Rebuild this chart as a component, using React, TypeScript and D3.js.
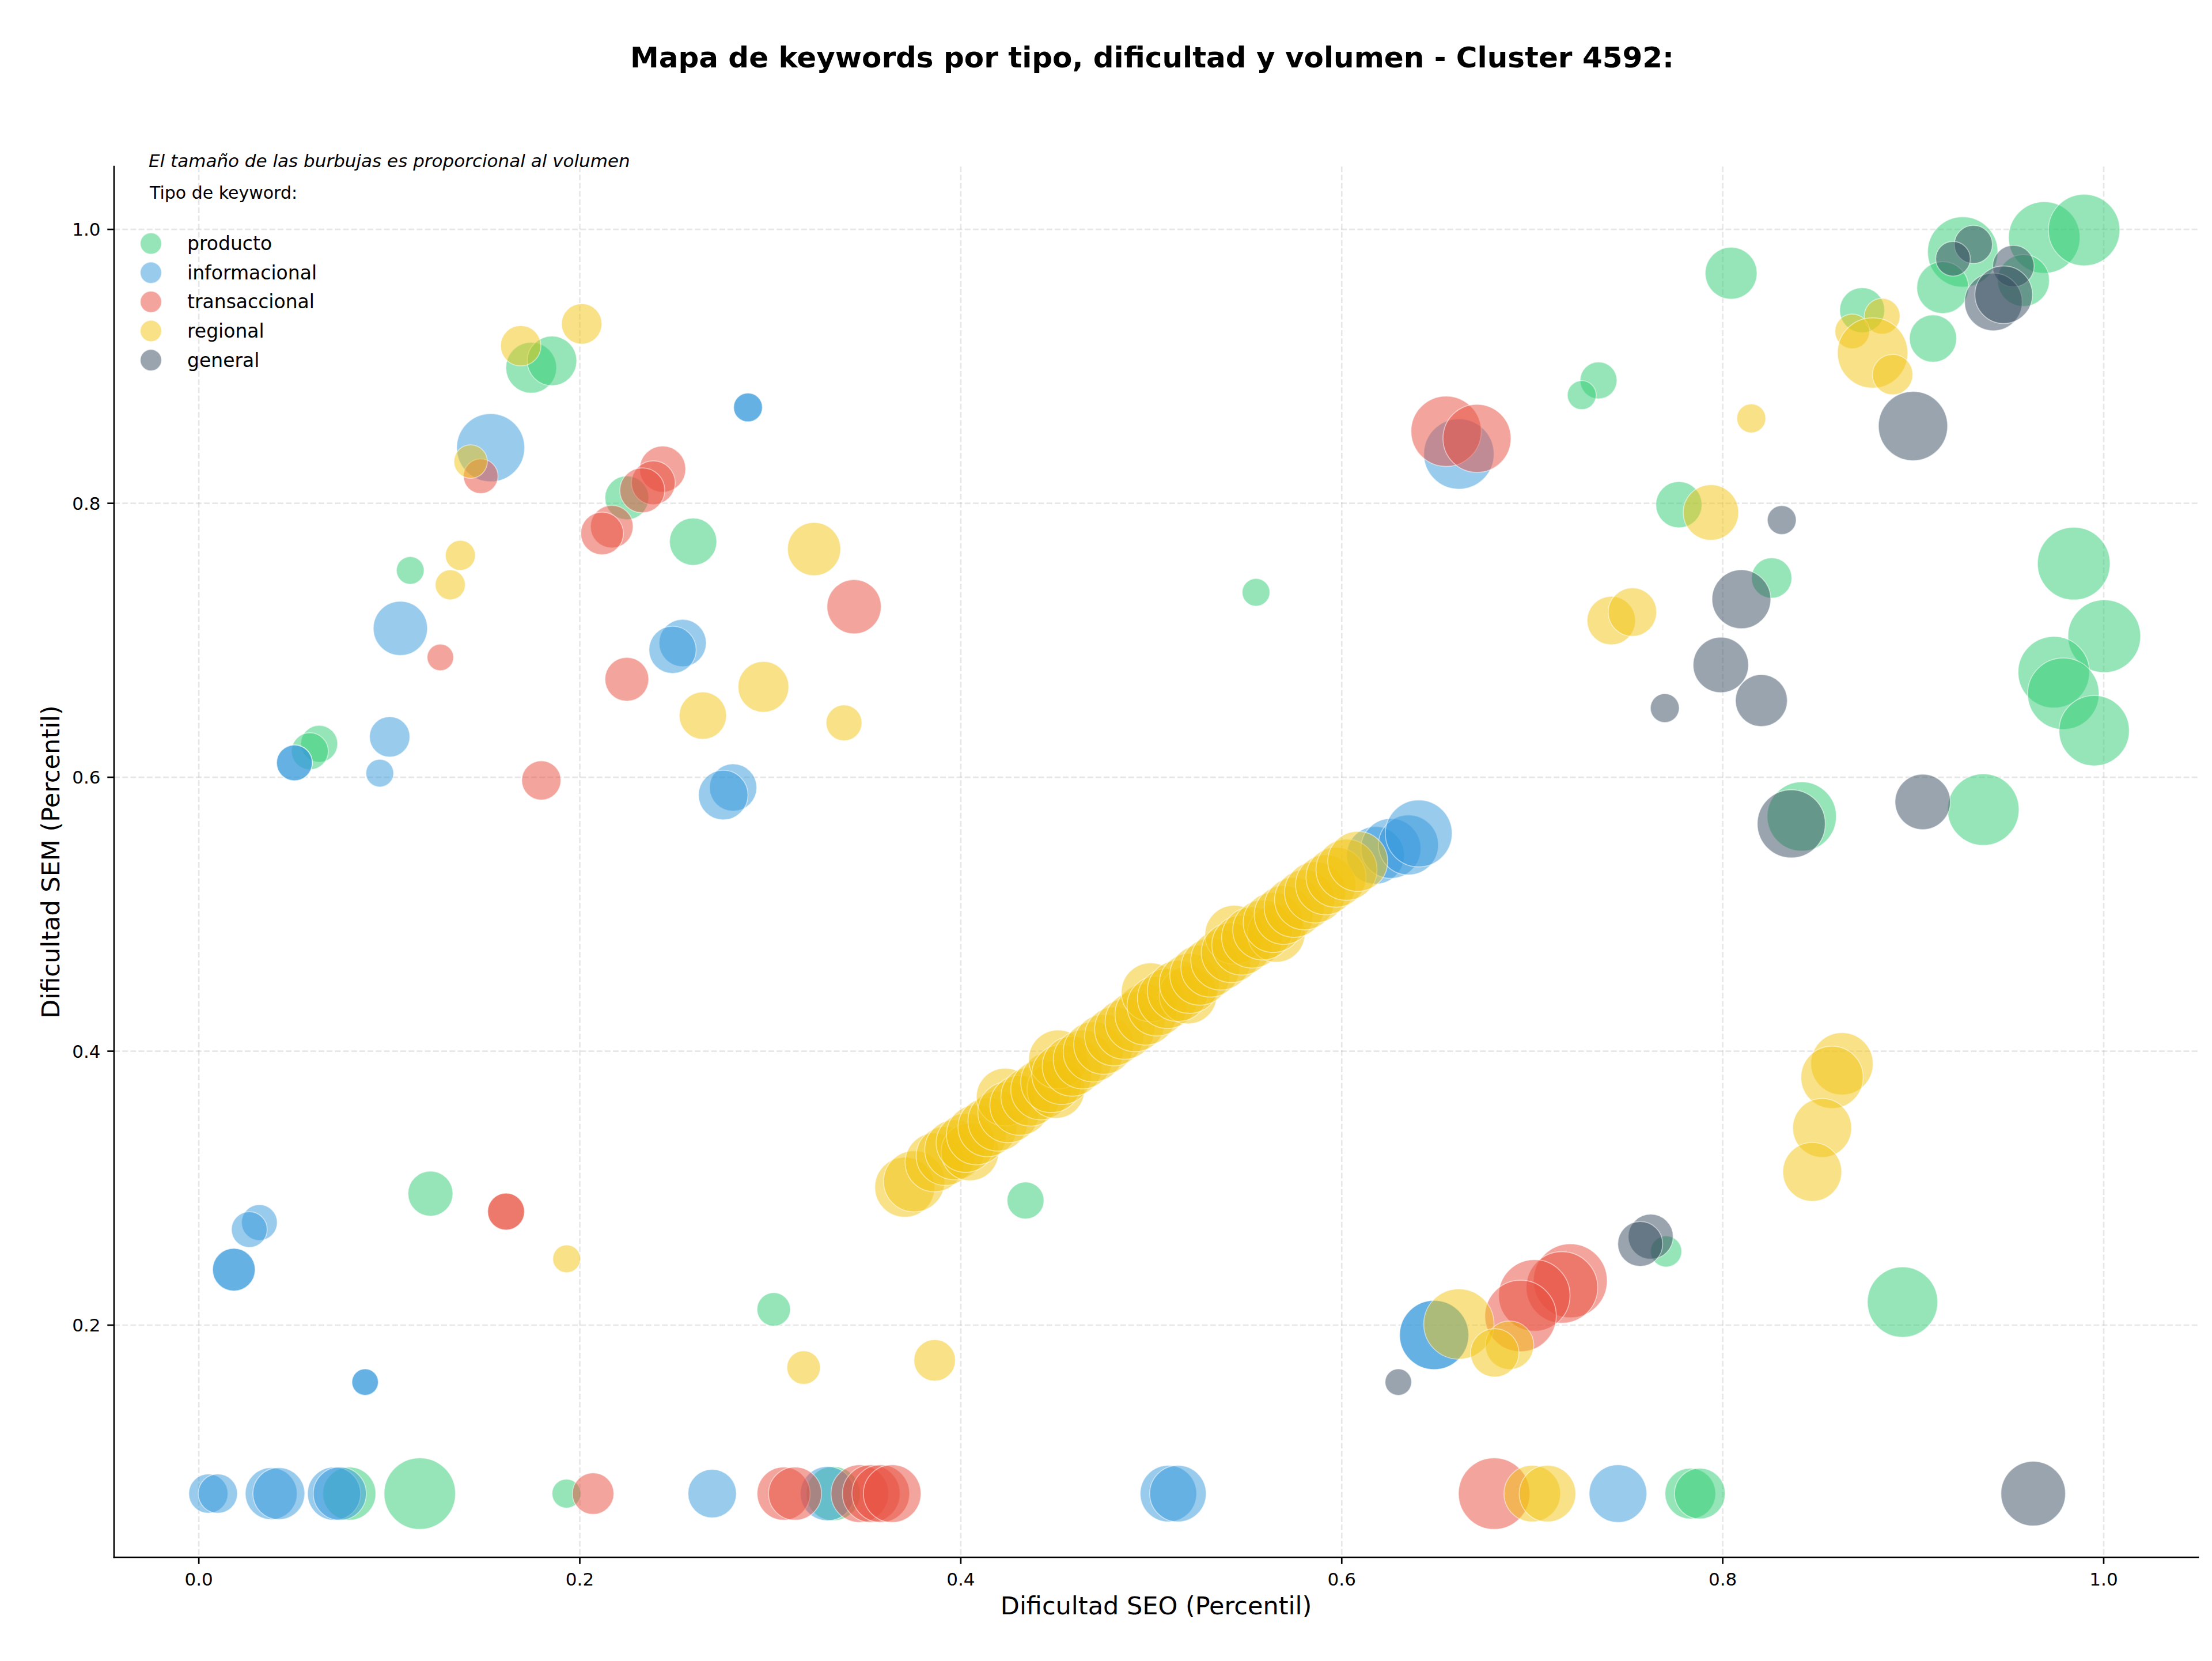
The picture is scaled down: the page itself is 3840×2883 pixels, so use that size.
import React from "react";
import * as d3 from "d3";

// Each keyword: [dificultad SEO (percentil), dificultad SEM (percentil), volumen]
const producto: [number, number, number][] = [
  [0.1745, 0.899, 473], [0.1854, 0.904, 451], [0.2247, 0.804, 352], [0.2595, 0.772, 410],
  [0.111, 0.751, 141], [0.0632, 0.6244, 250], [0.0583, 0.619, 250], [0.555, 0.735, 141],
  [0.1216, 0.296, 371], [0.3018, 0.2115, 205], [0.434, 0.291, 250],
  [0.079, 0.077, 517], [0.116, 0.077, 938], [0.193, 0.077, 153], [0.333, 0.077, 539],
  [0.783, 0.077, 473], [0.788, 0.077, 473],
  [0.7348, 0.8897, 250], [0.726, 0.879, 153], [0.777, 0.799, 391], [0.8044, 0.968, 494],
  [0.9688, 0.9941, 938], [0.9897, 0.9995, 938], [0.926, 0.9835, 908], [0.9155, 0.9575, 494],
  [0.9579, 0.9627, 494], [0.9104, 0.9203, 410], [0.8732, 0.941, 371], [0.8257, 0.7455, 299],
  [0.9843, 0.756, 969], [1.0003, 0.703, 969], [0.9738, 0.6767, 938], [0.9788, 0.661, 938],
  [0.995, 0.634, 908], [0.8415, 0.5714, 879], [0.9368, 0.5764, 938],
  [0.8944, 0.2168, 908], [0.7703, 0.2538, 178],
];

const informacional: [number, number, number][] = [
  [0.2883, 0.87, 153], [0.2883, 0.87, 153], [0.1532, 0.8406, 850], [0.1058, 0.7087, 539],
  [0.254, 0.698, 410], [0.2487, 0.693, 410], [0.0502, 0.6105, 235], [0.0502, 0.6105, 235],
  [0.1002, 0.6295, 299], [0.095, 0.603, 141], [0.2805, 0.5925, 410], [0.2753, 0.587, 451],
  [0.0318, 0.2749, 235], [0.0265, 0.2698, 235], [0.0184, 0.2405, 334], [0.0184, 0.2405, 334],
  [0.0873, 0.1584, 129], [0.0873, 0.1584, 129],
  [0.005, 0.077, 282], [0.01, 0.077, 282], [0.038, 0.077, 494], [0.042, 0.077, 494],
  [0.071, 0.077, 517], [0.074, 0.077, 517], [0.2695, 0.077, 431], [0.33, 0.077, 539],
  [0.509, 0.077, 586], [0.514, 0.077, 586], [0.745, 0.077, 610],
  [0.6177, 0.543, 610], [0.6258, 0.548, 660], [0.635, 0.5506, 660], [0.6404, 0.559, 821],
  [0.6615, 0.836, 908], [0.6485, 0.1928, 879], [0.6485, 0.1928, 879],
];

const transaccional: [number, number, number][] = [
  [0.148, 0.8198, 220], [0.2435, 0.825, 391], [0.2386, 0.815, 352], [0.2328, 0.8095, 371],
  [0.2168, 0.783, 334], [0.2117, 0.778, 334], [0.344, 0.7245, 539], [0.1268, 0.6875, 129],
  [0.2247, 0.6715, 352], [0.1798, 0.5977, 282], [0.1613, 0.2829, 250], [0.1613, 0.2829, 250],
  [0.207, 0.077, 316], [0.307, 0.077, 517], [0.313, 0.077, 517], [0.347, 0.077, 610],
  [0.353, 0.077, 610], [0.358, 0.077, 610], [0.364, 0.077, 610], [0.68, 0.077, 938],
  [0.6548, 0.8526, 908], [0.671, 0.8474, 850],
  [0.72, 0.2324, 1000], [0.7156, 0.2275, 938], [0.7011, 0.2217, 938], [0.6939, 0.2067, 938],
];

const regional: [number, number, number][] = [
  [0.201, 0.931, 299], [0.169, 0.915, 299], [0.1427, 0.8305, 205], [0.323, 0.7666, 517],
  [0.1373, 0.762, 165], [0.132, 0.7405, 165], [0.2964, 0.666, 473], [0.2646, 0.645, 410],
  [0.3387, 0.6397, 235], [0.1931, 0.2484, 141], [0.3175, 0.169, 205], [0.3863, 0.1743, 316],
  [0.7, 0.077, 586], [0.708, 0.077, 586],
  [0.815, 0.862, 153], [0.8837, 0.9366, 235], [0.868, 0.9255, 220], [0.8787, 0.9098, 908],
  [0.8892, 0.894, 299], [0.7938, 0.7933, 563], [0.7415, 0.7144, 431], [0.7526, 0.7206, 431],
  [0.8626, 0.3908, 712], [0.8574, 0.3809, 712], [0.8522, 0.344, 635], [0.847, 0.3119, 635],
  [0.6615, 0.2008, 908], [0.6881, 0.1853, 431], [0.6803, 0.1798, 431],
  // diagonal run of regional keywords
  [0.3706, 0.3007, 660], [0.3755, 0.305, 686], [0.3862, 0.3188, 635], [0.392, 0.3235, 635],
  [0.3968, 0.328, 660], [0.4048, 0.3265, 610], [0.4025, 0.333, 635], [0.4082, 0.339, 660],
  [0.414, 0.3445, 635], [0.4195, 0.349, 660], [0.4233, 0.3665, 610], [0.425, 0.3555, 686],
  [0.431, 0.3605, 660], [0.4365, 0.3668, 635], [0.442, 0.3718, 660], [0.4499, 0.372, 610],
  [0.4475, 0.3775, 686], [0.4511, 0.394, 635], [0.453, 0.383, 660], [0.4585, 0.389, 660],
  [0.464, 0.394, 635], [0.4695, 0.3995, 660], [0.475, 0.405, 660], [0.4805, 0.4108, 635],
  [0.486, 0.416, 660], [0.4915, 0.4215, 660], [0.497, 0.4268, 686], [0.4997, 0.443, 635],
  [0.503, 0.433, 660], [0.5085, 0.4385, 660], [0.5193, 0.441, 610], [0.514, 0.444, 686],
  [0.52, 0.4495, 660], [0.5255, 0.4555, 660], [0.531, 0.461, 635], [0.5365, 0.4665, 660],
  [0.5436, 0.485, 635], [0.542, 0.472, 660], [0.5475, 0.4775, 660], [0.553, 0.483, 686],
  [0.5656, 0.486, 610], [0.5585, 0.4885, 660], [0.564, 0.494, 660], [0.5695, 0.4995, 635],
  [0.575, 0.505, 660], [0.5805, 0.5105, 660], [0.586, 0.516, 686], [0.5915, 0.5215, 660],
  [0.597, 0.527, 660], [0.6025, 0.5325, 686], [0.6084, 0.5386, 660],
];

const general: [number, number, number][] = [
  [0.9316, 0.989, 266], [0.9209, 0.9785, 220], [0.9526, 0.9732, 316], [0.9421, 0.947, 610],
  [0.9475, 0.9523, 610], [0.8999, 0.8564, 879], [0.831, 0.7878, 153], [0.8098, 0.73, 635],
  [0.799, 0.682, 563], [0.8203, 0.656, 494], [0.7696, 0.6505, 153], [0.836, 0.566, 850],
  [0.905, 0.582, 563], [0.7622, 0.2646, 371], [0.7567, 0.2593, 371], [0.6297, 0.1584, 129],
  [0.963, 0.077, 766],
];

const tipos = ["producto", "informacional", "transaccional", "regional", "general"];
const colores = ["#2ecc71", "#3498db", "#e74c3c", "#f1c40f", "#34495e"];
const series = [producto, informacional, transaccional, regional, general];

const xTicks = [0.0, 0.2, 0.4, 0.6, 0.8, 1.0];
const yTicks = [0.2, 0.4, 0.6, 0.8, 1.0];

const titulo = "Mapa de keywords por tipo, dificultad y volumen - Cluster 4592:";
const nota = "El tamaño de las burbujas es proporcional al volumen";
const tituloLeyenda = "Tipo de keyword:";

const W = 3840;
const H = 2883;
const plot = { left: 198, right: 3816, top: 289, bottom: 2703 };
const FONT = "'DejaVu Sans', sans-serif";

export default function App() {
  const x = d3.scaleLinear().domain([-0.0445, 1.0496]).range([plot.left, plot.right]);
  const y = d3.scaleLinear().domain([0.0305, 1.0459]).range([plot.bottom, plot.top]);
  const r = d3.scaleSqrt().domain([0, 1000]).range([0, 64]);
  const color = d3.scaleOrdinal<string, string>().domain(tipos).range(colores);

  const alpha = 0.5;
  const cx = (plot.left + plot.right) / 2;
  const cy = (plot.top + plot.bottom) / 2;

  return (
    <svg
      width={W}
      height={H}
      viewBox={`0 0 ${W} ${H}`}
      style={{ position: "absolute", left: 0, top: 0, background: "#fff" }}
      fontFamily={FONT}
    >
      <rect x={0} y={0} width={W} height={H} fill="#fff" />

      {/* grid */}
      <g stroke="#b0b0b0" strokeOpacity={0.3} strokeWidth={2.67} strokeDasharray="9.9 4.3">
        {xTicks.map((t) => (
          <line key={`gx${t}`} x1={x(t)} x2={x(t)} y1={plot.top} y2={plot.bottom} />
        ))}
        {yTicks.map((t) => (
          <line key={`gy${t}`} x1={plot.left} x2={plot.right} y1={y(t)} y2={y(t)} />
        ))}
      </g>

      {/* bubbles */}
      {series.map((pts, i) => (
        <g key={tipos[i]}>
          {pts.map((d, j) => (
            <circle
              key={j}
              cx={x(d[0])}
              cy={y(d[1])}
              r={r(d[2])}
              fill={color(tipos[i])}
              fillOpacity={alpha}
              stroke="#fff"
              strokeOpacity={alpha}
              strokeWidth={1.7}
            />
          ))}
        </g>
      ))}

      {/* spines */}
      <g stroke="#000" strokeWidth={2.67} strokeLinecap="square">
        <line x1={plot.left} x2={plot.left} y1={plot.top} y2={plot.bottom} />
        <line x1={plot.left} x2={plot.right} y1={plot.bottom} y2={plot.bottom} />
      </g>

      {/* x axis */}
      <g>
        {xTicks.map((t) => (
          <g key={`tx${t}`}>
            <line x1={x(t)} x2={x(t)} y1={plot.bottom} y2={plot.bottom + 11.7} stroke="#000" strokeWidth={2.67} />
            <text x={x(t)} y={plot.bottom + 49} textAnchor="middle" fontSize={31} fill="#000">
              {d3.format(".1f")(t)}
            </text>
          </g>
        ))}
        <text x={cx} y={2802} textAnchor="middle" fontSize={43} fill="#000">
          Dificultad SEO (Percentil)
        </text>
      </g>

      {/* y axis */}
      <g>
        {yTicks.map((t) => (
          <g key={`ty${t}`}>
            <line x1={plot.left - 11.7} x2={plot.left} y1={y(t)} y2={y(t)} stroke="#000" strokeWidth={2.67} />
            <text x={plot.left - 23.4} y={y(t) + 11} textAnchor="end" fontSize={31} fill="#000">
              {d3.format(".1f")(t)}
            </text>
          </g>
        ))}
        <text transform={`translate(103, ${cy}) rotate(-90)`} textAnchor="middle" fontSize={43} fill="#000">
          Dificultad SEM (Percentil)
        </text>
      </g>

      {/* title */}
      <text x={2000} y={117} textAnchor="middle" fontSize={50} fontWeight="bold" fill="#000">
        {titulo}
      </text>

      {/* note and legend */}
      <text x={258} y={290} fontSize={31} fontStyle="italic" fill="#000">
        {nota}
      </text>
      <text x={260} y={345} fontSize={30} fill="#000">
        {tituloLeyenda}
      </text>
      {tipos.map((t, i) => {
        const ly = 422.7 + i * 50.6;
        return (
          <g key={`lg${t}`}>
            <circle cx={262} cy={ly} r={18.5} fill={color(t)} fillOpacity={alpha} stroke="#fff" strokeOpacity={alpha} strokeWidth={1.7} />
            <text x={325} y={ly + 11.5} fontSize={33} fill="#000">
              {t}
            </text>
          </g>
        );
      })}
    </svg>
  );
}
